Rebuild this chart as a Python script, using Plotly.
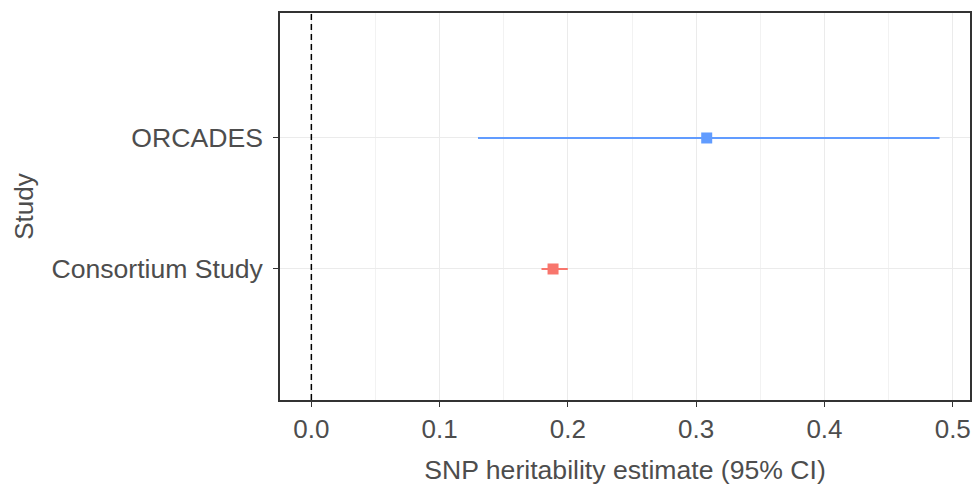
import plotly.graph_objects as go

studies = ["Consortium Study", "ORCADES"]
estimates = [0.1884, 0.3082]
lower = [0.1794, 0.1299]
upper = [0.1999, 0.4897]
colors = ["#F8766D", "#619CFF"]
x_ticks = [0.0, 0.1, 0.2, 0.3, 0.4, 0.5]
x_tick_labels = ["0.0", "0.1", "0.2", "0.3", "0.4", "0.5"]

fig = go.Figure()
for s, e, lo, hi, c in zip(studies, estimates, lower, upper, colors):
    fig.add_trace(go.Scatter(
        x=[e], y=[s], mode="markers",
        marker=dict(symbol="square", size=11, color=c),
        error_x=dict(type="data", symmetric=False, array=[hi - e], arrayminus=[e - lo],
                     color=c, thickness=2, width=0),
        showlegend=False, hoverinfo="x+y",
    ))

fig.add_shape(type="line", xref="x", yref="paper", x0=0, x1=0, y0=0, y1=1,
              line=dict(color="black", width=1.5, dash="6px,4px"))

font = "Liberation Sans, Arial, Helvetica, sans-serif"
fig.update_layout(
    width=976, height=486,
    margin=dict(l=280, r=4, t=13, b=86),
    plot_bgcolor="white", paper_bgcolor="white",
    font=dict(family=font, color="#4D4D4D"),
    xaxis=dict(
        range=[-0.02445, 0.51345], tickvals=x_ticks, ticktext=x_tick_labels,
        tickfont=dict(size=26, color="#4D4D4D"),
        title=dict(text="SNP heritability estimate (95% CI)", font=dict(size=26.6, color="#4D4D4D"), standoff=17),
        showgrid=True, gridcolor="#EBEBEB", gridwidth=1.2,
        minor=dict(dtick=0.05, tick0=0, showgrid=True, gridcolor="#F2F2F2", gridwidth=0.8, ticks=""),
        showline=True, linecolor="#333333", linewidth=1.6, mirror=True,
        ticks="outside", ticklen=5, tickcolor="#333333", tickwidth=1.2,
        zeroline=False,
    ),
    yaxis=dict(
        type="category", categoryorder="array", categoryarray=studies,
        range=[-1.0, 1.954],
        tickfont=dict(size=26.6, color="#4D4D4D"),
        ticklabelstandoff=5,
        title=dict(text="Study", font=dict(size=26, color="#4D4D4D"), standoff=10),
        showgrid=True, gridcolor="#EBEBEB", gridwidth=1.2,
        showline=True, linecolor="#333333", linewidth=1.6, mirror=True,
        ticks="outside", ticklen=5, tickcolor="#333333", tickwidth=1.2,
        zeroline=False,
    ),
)

fig.write_html("out.html")
